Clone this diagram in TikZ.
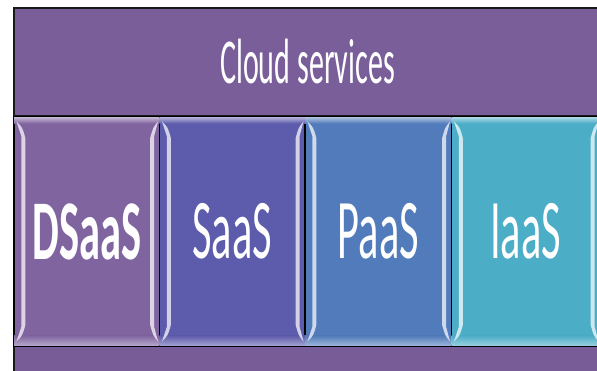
\documentclass[tikz,border=0pt]{standalone}
\usepackage{fontspec}
\setmainfont{Carlito}
\usetikzlibrary{calc}

\definecolor{cloudpurple}{HTML}{7A5E99}
\definecolor{basepurple}{HTML}{785C97}
\definecolor{dsaascol}{HTML}{8064A0}
\definecolor{saascol}{HTML}{5D5BAB}
\definecolor{paascol}{HTML}{517BBA}
\definecolor{iaascol}{HTML}{4BADC6}

\tikzset{
  band/.style={draw=black!90, line width=1.6pt, fill=cloudpurple, inner sep=0pt},
  tile/.style={draw=black, line width=1.1pt, inner sep=0pt,
    minimum height=229pt, text=white},
  tilefont/.style={font=\fontsize{85}{85}\selectfont},
}

% glossy bevel highlights inside a tile
\newcommand{\gloss}[2]{%
  \shade[top color=white!55!#2, bottom color=#2]
    ($(#1.north west)+(0.6,-0.6)$) rectangle ($(#1.north east)+(-0.6,-7)$);
  \shade[top color=#2, bottom color=white!45!#2]
    ($(#1.south west)+(0.6,11)$) rectangle ($(#1.south east)+(-0.6,0.6)$);
  \fill[white!72!#2]
    ($(#1.north west)+(3,-5)$) .. controls ($(#1.north west)+(9,-11)$) .. ($(#1.north west)+(12,-22)$)
    -- ($(#1.south west)+(12,22)$) .. controls ($(#1.south west)+(9,11)$) .. ($(#1.south west)+(3,5)$)
    -- ($(#1.south west)+(8,20)$) -- ($(#1.north west)+(8,-20)$) -- cycle;
  \fill[white!72!#2]
    ($(#1.north east)+(-2,-5)$) .. controls ($(#1.north east)+(-7,-11)$) .. ($(#1.north east)+(-10,-22)$)
    -- ($(#1.south east)+(-10,22)$) .. controls ($(#1.south east)+(-7,11)$) .. ($(#1.south east)+(-2,5)$)
    -- ($(#1.south east)+(-6,20)$) -- ($(#1.north east)+(-6,-20)$) -- cycle;
}

\begin{document}
\begin{tikzpicture}[x=1pt,y=1pt]
  \useasboundingbox (0,0) rectangle (597,370);
  \clip (0,0) rectangle (597,370);
  \fill[white] (0,0) rectangle (597,370);

  % header band
  \node[band, minimum width=587pt, minimum height=108pt,
        font=\fontsize{64}{64}\selectfont, text=white]
    (cloud) at (307.5,308) {\scalebox{0.47}[1]{Cloud services}};

  % bottom band
  \node[band, minimum width=587pt, minimum height=30pt, fill=basepurple]
    (base) at (307.5,9) {};

  % service tiles
  \node[tile, minimum width=145.5pt, fill=dsaascol] (dsaas) at (86.75,138.5) {};
  \node[tile, minimum width=145.5pt, fill=saascol]  (saas)  at (232.25,138.5) {};
  \node[tile, minimum width=146.5pt, fill=paascol]  (paas)  at (378.25,138.5) {};
  \node[tile, minimum width=148.5pt, fill=iaascol]  (iaas)  at (525.75,138.5) {};

  \gloss{dsaas}{dsaascol}
  \gloss{saas}{saascol}
  \gloss{paas}{paascol}
  \gloss{iaas}{iaascol}

  \node[tilefont, text=white, font=\fontsize{85}{85}\selectfont\bfseries]
    at (dsaas.center) {\scalebox{0.5}[1]{DSaaS}};
  \node[tilefont, text=white] at (saas.center) {\scalebox{0.5}[1]{SaaS}};
  \node[tilefont, text=white] at (paas.center) {\scalebox{0.5}[1]{PaaS}};
  \node[tilefont, text=white] at (iaas.center) {\scalebox{0.5}[1]{IaaS}};
\end{tikzpicture}
\end{document}
